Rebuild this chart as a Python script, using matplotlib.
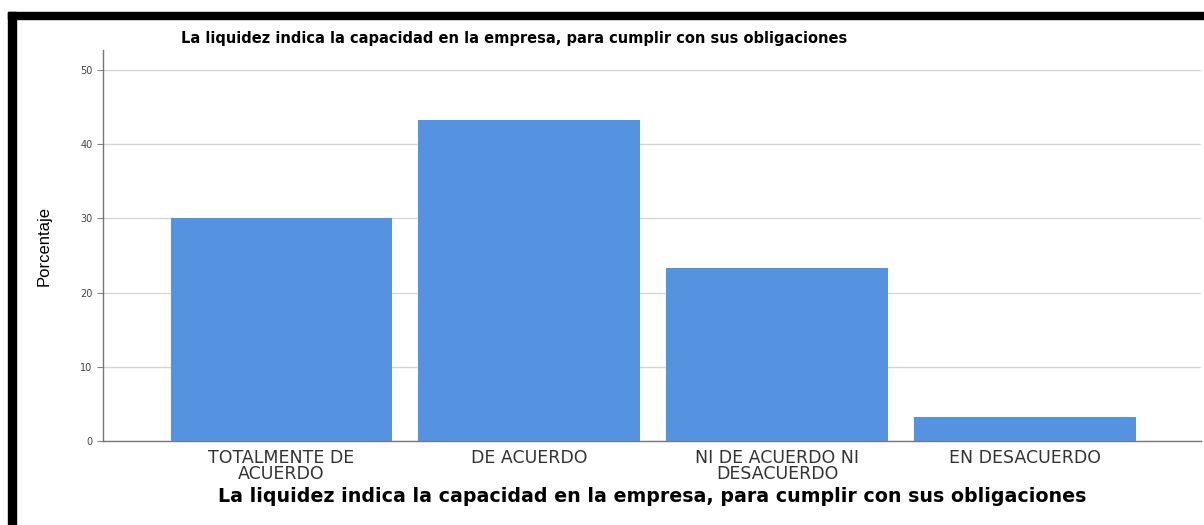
import matplotlib.pyplot as plt
from matplotlib.patches import Rectangle

categorias = ['TOTALMENTE DE\nACUERDO', 'DE ACUERDO', 'NI DE ACUERDO NI\nDESACUERDO', 'EN DESACUERDO']
porcentajes = [30.0, 43.3, 23.3, 3.3]
yticks = [0, 10, 20, 30, 40, 50]
titulo = 'La liquidez indica la capacidad en la empresa, para cumplir con sus obligaciones'

W, H = 1204, 525
fig = plt.figure(figsize=(W / 100, H / 100), dpi=100)
ax = fig.add_axes([103 / W, 1 - 441 / H, (1201 - 103) / W, (441 - 50) / H])

x = range(len(categorias))
ax.bar(x, porcentajes, width=0.895, color='#5592e0', zorder=3)

ax.set_xlim(-0.72, 3.71)
ax.set_ylim(0, 52.7)
ax.set_yticks(yticks)
ax.set_yticklabels([str(v) for v in yticks], fontsize=7, color='#444444')
ax.set_xticks(list(x))
ax.set_xticklabels(categorias, fontsize=12.5, color='#333333', linespacing=0.85,
                   family='DejaVu Sans')
ax.tick_params(axis='x', length=0, pad=6)
ax.tick_params(axis='y', length=4, color='#888888', width=0.8)
ax.grid(axis='y', color='#d6d6d6', linewidth=1, zorder=0)

for s in ['top', 'right']:
    ax.spines[s].set_visible(False)
for s in ['left', 'bottom']:
    ax.spines[s].set_color('#777777')
    ax.spines[s].set_linewidth(1)

ax.set_ylabel('Porcentaje', fontsize=12, family='Liberation Sans')
ax.yaxis.set_label_coords(-51 / (1201 - 103), 0.5)
ax.set_xlabel(titulo, fontsize=13.7, fontweight='bold', labelpad=3, family='DejaVu Sans')
fig.text(514 / W, 1 - 38 / H, titulo, fontsize=10.5, fontweight='bold', ha='center',
         va='center', family='DejaVu Sans')

# black frame (top and left edges)
fig.add_artist(Rectangle((8 / W, 0), 8 / W, 1 - 12 / H, transform=fig.transFigure,
                         color='black', zorder=10))
fig.add_artist(Rectangle((8 / W, 1 - 19 / H), 1 - 8 / W, 7 / H, transform=fig.transFigure,
                         color='black', zorder=10))

fig.savefig('out.png', dpi=100)
